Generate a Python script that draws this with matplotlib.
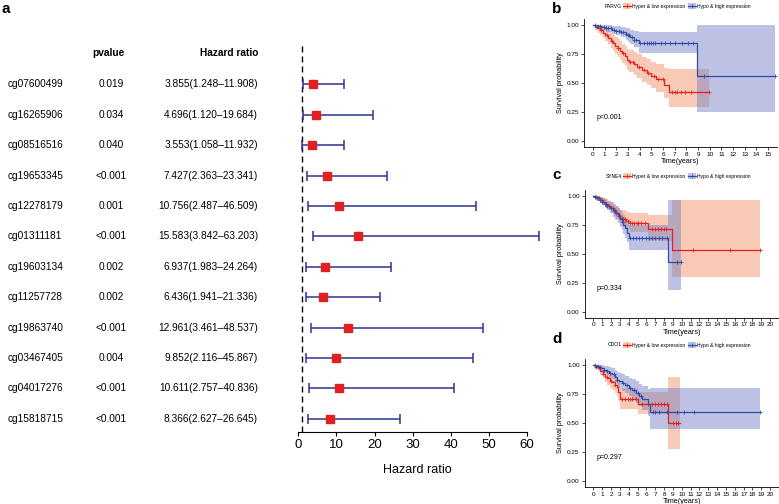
import numpy as np
import matplotlib
matplotlib.use('Agg')
import matplotlib.pyplot as plt
import matplotlib.transforms as mtransforms
from matplotlib.patches import Patch
from matplotlib.lines import Line2D

plt.rcParams['font.family'] = ['Liberation Sans', 'DejaVu Sans']

# ---------------- forest plot data (panel a) ----------------
genes = ['cg07600499', 'cg16265906', 'cg08516516', 'cg19653345', 'cg12278179', 'cg01311181',
         'cg19603134', 'cg11257728', 'cg19863740', 'cg03467405', 'cg04017276', 'cg15818715']
pvals = ['0.019', '0.034', '0.040', '<0.001', '0.001', '<0.001',
         '0.002', '0.002', '<0.001', '0.004', '<0.001', '<0.001']
hr = np.array([3.855, 4.696, 3.553, 7.427, 10.756, 15.583, 6.937, 6.436, 12.961, 9.852, 10.611, 8.366])
hr_low = np.array([1.248, 1.120, 1.058, 2.363, 2.487, 3.842, 1.983, 1.941, 3.461, 2.116, 2.757, 2.627])
hr_high = np.array([11.908, 19.684, 11.932, 23.341, 46.509, 63.203, 24.264, 21.336, 48.537, 45.867, 40.836, 26.645])

# ---------------- Kaplan-Meier data (panels b, c, d) ----------------
# panel b: PARVG
b_red_t = [0, 0.15, 0.4, 0.6, 0.85, 1.0, 1.3, 1.5, 1.7, 1.9, 2.1, 2.3, 2.45, 2.7, 2.9, 3.1, 3.5, 3.8, 4.2, 4.6, 5.0, 5.4, 6.1, 6.55]
b_red_s = [1, 0.985, 0.97, 0.955, 0.93, 0.915, 0.89, 0.865, 0.845, 0.82, 0.80, 0.78, 0.755, 0.73, 0.70, 0.685, 0.665, 0.64, 0.61, 0.585, 0.56, 0.535, 0.48, 0.425]
b_red_hi = [1, 1, 1, 0.99, 0.975, 0.965, 0.95, 0.93, 0.915, 0.895, 0.88, 0.86, 0.84, 0.82, 0.795, 0.785, 0.77, 0.75, 0.725, 0.705, 0.685, 0.665, 0.63, 0.625]
b_red_lo = [1, 0.96, 0.935, 0.915, 0.885, 0.865, 0.835, 0.80, 0.78, 0.75, 0.725, 0.70, 0.675, 0.645, 0.61, 0.595, 0.57, 0.545, 0.51, 0.485, 0.455, 0.425, 0.37, 0.29]
b_red_end = 9.9
b_red_cens = [0.3, 0.7, 1.2, 1.6, 2.1, 2.6, 3.2, 3.4, 3.9, 4.4, 4.7, 5.2, 5.6, 6.0, 6.8, 7.0, 7.2, 7.5, 7.9, 8.4, 9.9]

b_blue_t = [0, 0.3, 0.7, 1.1, 1.6, 2.0, 2.4, 2.8, 3.0, 3.2, 3.5, 3.9, 8.9]
b_blue_s = [1, 0.99, 0.98, 0.97, 0.957, 0.95, 0.94, 0.925, 0.91, 0.895, 0.875, 0.845, 0.564]
b_blue_hi = [1, 1, 1, 1, 0.995, 0.99, 0.985, 0.975, 0.97, 0.96, 0.95, 0.94, 1.0]
b_blue_lo = [1, 0.97, 0.955, 0.94, 0.92, 0.91, 0.895, 0.875, 0.855, 0.835, 0.81, 0.76, 0.253]
b_blue_end = 15.6
b_blue_cens = [0.2, 0.4, 0.6, 0.9, 1.1, 1.3, 1.5, 1.8, 2.0, 2.2, 2.4, 2.6, 2.8, 3.0, 3.1, 3.3, 3.5, 3.7,
               4.0, 4.4, 4.6, 4.8, 5.0, 5.1, 5.3, 5.8, 6.2, 6.6, 7.0, 7.6, 8.1, 8.6, 9.5, 15.6]

# panel c: SYNE4
c_red_t = [0, 0.2, 0.5, 0.8, 1.1, 1.4, 1.7, 2.0, 2.3, 2.6, 2.85, 3.0, 3.3, 3.7, 4.2, 6.2, 8.9]
c_red_s = [1, 0.99, 0.98, 0.965, 0.95, 0.93, 0.915, 0.895, 0.875, 0.855, 0.835, 0.81, 0.80, 0.785, 0.765, 0.715, 0.535]
c_red_hi = [1, 1, 1, 0.995, 0.985, 0.97, 0.96, 0.945, 0.93, 0.915, 0.90, 0.88, 0.875, 0.865, 0.855, 0.84, 0.965]
c_red_lo = [1, 0.975, 0.96, 0.94, 0.92, 0.895, 0.875, 0.85, 0.825, 0.80, 0.775, 0.745, 0.73, 0.715, 0.69, 0.61, 0.30]
c_red_end = 18.9
c_red_cens = [0.3, 0.6, 1.0, 1.4, 1.8, 2.2, 2.6, 3.2, 3.4, 3.6, 3.9, 4.2, 4.4, 4.6, 4.9, 5.1, 5.4, 5.8,
              6.6, 7.0, 7.3, 7.6, 8.0, 8.2, 11.3, 15.5, 18.9]

c_blue_t = [0, 0.2, 0.4, 0.7, 1.0, 1.3, 1.6, 1.9, 2.2, 2.5, 2.8, 3.0, 3.2, 3.4, 3.6, 3.8, 4.0, 8.5]
c_blue_s = [1, 0.99, 0.98, 0.965, 0.95, 0.935, 0.915, 0.895, 0.87, 0.85, 0.825, 0.80, 0.775, 0.75, 0.72, 0.68, 0.64, 0.427]
c_blue_hi = [1, 1, 1, 0.995, 0.985, 0.975, 0.96, 0.945, 0.93, 0.915, 0.895, 0.875, 0.855, 0.835, 0.81, 0.78, 0.75, 0.965]
c_blue_lo = [1, 0.975, 0.96, 0.94, 0.92, 0.90, 0.875, 0.85, 0.82, 0.795, 0.765, 0.735, 0.705, 0.675, 0.64, 0.60, 0.535, 0.19]
c_blue_end = 9.9
c_blue_cens = [0.2, 0.4, 0.7, 1.0, 1.3, 1.6, 2.0, 2.4, 2.9, 3.3, 4.2, 4.5, 4.8, 5.2, 5.5, 5.9,
               6.3, 6.6, 7.0, 7.4, 7.8, 8.3, 9.5, 9.9]

# panel d: CDO1
d_red_t = [0, 0.2, 0.5, 0.8, 1.1, 1.35, 1.6, 1.9, 2.1, 2.4, 2.65, 2.8, 3.0, 5.1, 8.5]
d_red_s = [1, 0.985, 0.97, 0.95, 0.925, 0.9, 0.885, 0.865, 0.85, 0.83, 0.81, 0.77, 0.705, 0.668, 0.503]
d_red_hi = [1, 1, 0.995, 0.985, 0.97, 0.955, 0.945, 0.93, 0.92, 0.905, 0.89, 0.86, 0.80, 0.77, 0.90]
d_red_lo = [1, 0.965, 0.945, 0.915, 0.885, 0.85, 0.83, 0.80, 0.785, 0.76, 0.735, 0.69, 0.62, 0.575, 0.28]
d_red_end = 9.8
d_red_cens = [0.3, 0.7, 1.1, 1.5, 2.0, 2.5, 3.2, 3.6, 3.9, 4.1, 4.4, 4.8, 5.5, 6.2, 6.6, 7.0,
              7.3, 7.6, 8.0, 8.3, 9.0, 9.3, 9.6]

d_blue_t = [0, 0.3, 0.6, 0.9, 1.2, 1.5, 1.8, 2.1, 2.4, 2.7, 2.9, 3.2, 3.6, 4.0, 4.4, 4.8, 5.2, 5.5, 6.2, 6.45]
d_blue_s = [1, 0.99, 0.98, 0.97, 0.96, 0.95, 0.935, 0.92, 0.9, 0.875, 0.86, 0.845, 0.825, 0.805, 0.785, 0.76, 0.735, 0.71, 0.665, 0.598]
d_blue_hi = [1, 1, 1, 1, 0.995, 0.99, 0.98, 0.97, 0.955, 0.94, 0.93, 0.92, 0.905, 0.89, 0.875, 0.86, 0.84, 0.82, 0.795, 0.80]
d_blue_lo = [1, 0.975, 0.96, 0.945, 0.93, 0.915, 0.895, 0.875, 0.85, 0.82, 0.80, 0.78, 0.755, 0.73, 0.705, 0.675, 0.645, 0.615, 0.56, 0.448]
d_blue_end = 18.8
d_blue_cens = [0.2, 0.5, 0.8, 1.2, 1.5, 1.9, 2.3, 2.7, 3.3, 3.8, 4.2, 4.6, 5.0, 5.4, 6.7, 7.0,
               7.4, 8.3, 9.5, 10.3, 11.4, 18.8]

RED = '#E41F1F'
BLUE = '#2F4DA6'
RED_FILL = '#F08A5D'
BLUE_FILL = '#6E78C4'
FILL_ALPHA = 0.45
NAVY = '#2E3192'

fig = plt.figure(figsize=(7.79, 5.04), dpi=100)


def px(x0, y0, x1, y1):
    """pixel box (left, top, right, bottom) -> figure rect"""
    return [x0 / 779, 1 - y1 / 504, (x1 - x0) / 779, (y1 - y0) / 504]


# ---------------- panel a ----------------
ax = fig.add_axes(px(290, 44, 545, 432.3))
n = len(genes)
ypos = np.arange(n, 0, -1)
ax.errorbar(hr, ypos, xerr=[hr - hr_low, hr_high - hr], fmt='none', ecolor=NAVY,
            elinewidth=1.1, capsize=3.3, capthick=1.1, zorder=2)
ax.plot(hr, ypos, 's', color=RED, ms=5.3, zorder=3)
ax.axvline(1, color='black', lw=1.0, ls=(0, (4.3, 2.9)), zorder=1)
ax.set_xlim(-2.18, 64.75)
ax.set_ylim(0.553, 13.33)
for s in ['top', 'right', 'left']:
    ax.spines[s].set_visible(False)
ax.spines['bottom'].set_bounds(0, 60)
ax.spines['bottom'].set_linewidth(0.8)
ax.set_yticks([])
ax.set_xticks(range(0, 61, 10))
ax.tick_params(axis='x', labelsize=9.5, length=3, width=0.8, pad=2)
ax.set_xlabel('Hazard ratio', fontsize=9, labelpad=9)

trans = mtransforms.blended_transform_factory(fig.transFigure, ax.transData)
ax.text(108 / 779, 13.03, 'pvalue', transform=trans, ha='center', va='center',
        fontsize=7.3, fontweight='bold')
ax.text(258 / 779, 13.03, 'Hazard ratio', transform=trans, ha='right', va='center',
        fontsize=7.3, fontweight='bold')
for g, p, h, lo, hi, y in zip(genes, pvals, hr, hr_low, hr_high, ypos):
    ax.text(7.3 / 779, y, g, transform=trans, ha='left', va='center', fontsize=7.3)
    ax.text(111 / 779, y, p, transform=trans, ha='center', va='center', fontsize=7.3)
    ax.text(258 / 779, y, f'{h:.3f}({lo:.3f}\u2013{hi:.3f})', transform=trans,
            ha='right', va='center', fontsize=7.3)

fig.text(2 / 779, 1 - 2 / 504, 'a', fontsize=11, fontweight='bold', va='top', ha='left')


# ---------------- panels b, c, d ----------------
def km(ax, t, s, lo, hi, end, cens, color, fill):
    t_ext = list(t) + [end]
    s_ext = list(s) + [s[-1]]
    ax.fill_between(t_ext, list(lo) + [lo[-1]], list(hi) + [hi[-1]], step='post',
                    color=fill, alpha=FILL_ALPHA, lw=0)
    ax.step(t_ext, s_ext, where='post', color=color, lw=0.9)
    idx = np.searchsorted(t, cens, side='right') - 1
    ax.plot(cens, np.array(s)[idx], '+', color=color, ms=3.2, mew=0.6)


def km_axes(rect, xmax, step_ticks):
    a = fig.add_axes(rect)
    a.set_xlim(-0.05 * xmax, 1.05 * xmax)
    a.set_ylim(-0.05, 1.05)
    a.set_xticks(range(0, xmax + 1, step_ticks))
    a.set_yticks([0, 0.25, 0.5, 0.75, 1.0])
    a.set_yticklabels(['0.00', '0.25', '0.50', '0.75', '1.00'])
    for sp in ['top', 'right']:
        a.spines[sp].set_visible(False)
    for sp in ['left', 'bottom']:
        a.spines[sp].set_linewidth(0.6)
    a.tick_params(labelsize=4.6, length=2, width=0.5, pad=1.5)
    a.set_xlabel('Time(years)', fontsize=5.2, labelpad=1)
    a.set_ylabel('Survival probability', fontsize=5.2, labelpad=2)
    return a


panels = [
    ('b', 'PARVG', 'p<0.001', px(584.3, 19.2, 776.8, 146.8), 15, 6,
     (b_red_t, b_red_s, b_red_lo, b_red_hi, b_red_end, b_red_cens),
     (b_blue_t, b_blue_s, b_blue_lo, b_blue_hi, b_blue_end, b_blue_cens), 2, 0.3),
    ('c', 'SYNE4', 'p=0.334', px(584.5, 190.2, 779, 317.5), 20, 176,
     (c_red_t, c_red_s, c_red_lo, c_red_hi, c_red_end, c_red_cens),
     (c_blue_t, c_blue_s, c_blue_lo, c_blue_hi, c_blue_end, c_blue_cens), 168, 0.4),
    ('d', 'CDO1', 'p=0.297', px(584.5, 359.2, 779, 486.8), 20, 345,
     (d_red_t, d_red_s, d_red_lo, d_red_hi, d_red_end, d_red_cens),
     (d_blue_t, d_blue_s, d_blue_lo, d_blue_hi, d_blue_end, d_blue_cens), 332, 0.4),
]

for lab, gene, ptxt, rect, xmax, leg_y, red, blue, lab_y, ptx in panels:
    a = km_axes(rect, xmax, 1)
    km(a, *red, RED, RED_FILL)
    km(a, *blue, BLUE, BLUE_FILL)
    a.text(ptx, 0.2, ptxt, fontsize=5, ha='left', va='center')
    fig.text(552 / 779, 1 - lab_y / 504, lab, fontsize=11, fontweight='bold', va='top', ha='left')
    fig.text(622 / 779, 1 - leg_y / 504, gene, fontsize=3.6, ha='right', va='center')
    handles = [(Patch(facecolor=RED_FILL, alpha=FILL_ALPHA, lw=0), Line2D([], [], color=RED, lw=0.9, marker='+', ms=3, mew=0.6)),
               (Patch(facecolor=BLUE_FILL, alpha=FILL_ALPHA, lw=0), Line2D([], [], color=BLUE, lw=0.9, marker='+', ms=3, mew=0.6))]
    fig.legend(handles, ['Hyper & low expression', 'Hypo & high expression'], ncol=2,
               loc='center left', bbox_to_anchor=(623 / 779, 1 - leg_y / 504),
               frameon=False, fontsize=3.6, handlelength=1.6, handleheight=1.2,
               handletextpad=0.3, columnspacing=0.4, borderpad=0, borderaxespad=0)

fig.savefig('out.png', dpi=100)
